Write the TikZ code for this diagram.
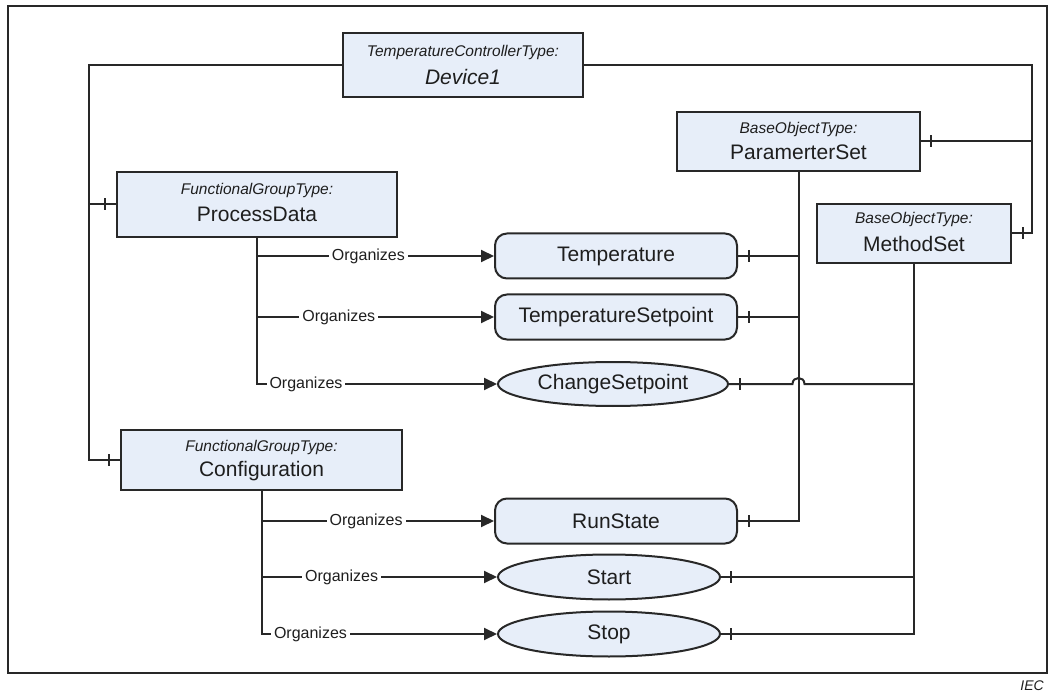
\documentclass[tikz,border=0pt]{standalone}
\usepackage{fontspec}
\setmainfont{Liberation Sans}
\usetikzlibrary{arrows.meta,shapes.geometric,calc}
\definecolor{boxfill}{RGB}{231,238,249}
\definecolor{edgec}{RGB}{40,40,40}
\definecolor{txt}{RGB}{30,30,30}
\newcommand\tyf{\fontsize{15.5}{18}\selectfont\itshape}
\newcommand\nmf{\fontsize{21}{24}\selectfont}
\newcommand\ogf{\fontsize{16}{18}\selectfont}
\newcommand\tk[1]{\draw[conn] (#1) ++(0,-6) -- ++(0,12);}
\tikzset{
  box/.style={draw=edgec, fill=boxfill, line width=2pt, inner sep=0pt},
  sqbox/.style={box, rectangle},
  rbox/.style={box, rectangle, rounded corners=12pt, minimum width=242pt, minimum height=45pt},
  ell/.style={box, ellipse},
  conn/.style={line width=2pt, draw=edgec},
  org/.style={conn, -{Triangle[length=13pt,width=12pt]}},
  lab/.style={fill=white, inner sep=3pt, font=\ogf, text=txt},
  tl/.style={font=\tyf, text=txt, inner sep=0pt},
  nl/.style={font=\nmf, text=txt, inner sep=0pt},
}
\begin{document}
\begin{tikzpicture}[x=1pt,y=-1pt]
\useasboundingbox (0,0) rectangle (1053,695);
\draw[line width=2pt, draw=edgec] (8,6) rectangle (1047,673);
\node[font=\fontsize{14}{16}\selectfont\itshape, text=txt, anchor=east, inner sep=0pt] (iec) at (1044,686) {IEC};

% boxes
\node[sqbox, minimum width=240pt, minimum height=64pt] (dev) at (463,65) {};
\node[tl] (devT) at (463,52) {TemperatureControllerType:};
\node[nl, font=\nmf\itshape] (devN) at (463,77) {Device1};

\node[sqbox, minimum width=280pt, minimum height=65pt] (pd) at (257,204.5) {};
\node[tl] (pdT) at (257,190) {FunctionalGroupType:};
\node[nl] (pdN) at (257,214) {ProcessData};

\node[sqbox, minimum width=281pt, minimum height=60pt] (cf) at (261.5,460) {};
\node[tl] (cfT) at (261.5,447) {FunctionalGroupType:};
\node[nl] (cfN) at (261.5,471) {Configuration};

\node[sqbox, minimum width=243pt, minimum height=59pt] (ps) at (798.5,141.5) {};
\node[tl] (psT) at (798.5,129) {BaseObjectType:};
\node[nl] (psN) at (798.5,152) {ParamerterSet};

\node[sqbox, minimum width=194pt, minimum height=59pt] (ms) at (914,233.5) {};
\node[tl] (msT) at (914,219) {BaseObjectType:};
\node[nl] (msN) at (914,244) {MethodSet};

\node[rbox, font=\nmf, text=txt] (temp) at (616,256) {Temperature};
\node[rbox, font=\nmf, text=txt] (tsp) at (616,317) {TemperatureSetpoint};
\node[ell, font=\nmf, text=txt, minimum width=230pt, minimum height=44pt] (cs) at (613,384) {ChangeSetpoint};
\node[rbox, font=\nmf, text=txt] (rs) at (616,521) {RunState};
\node[ell, font=\nmf, text=txt, minimum width=222pt, minimum height=45pt] (st) at (609,577) {Start};
\node[ell, font=\nmf, text=txt, minimum width=222pt, minimum height=45pt] (sp) at (609,634) {Stop};

% device connections
\coordinate (lt) at (89,65);
\coordinate (rt) at (1032,65);
\draw[conn] (dev.west) -- (lt) |- (cf.west);
\draw[conn] (lt |- pd.west) -- (pd.west);
\draw[conn] (dev.east) -- (rt) |- (ms.east);
\draw[conn] (rt |- ps.east) -- (ps.east);
\tk{[xshift=-11pt]pd.west}
\tk{[xshift=-11pt]cf.west}
\tk{[xshift=10pt]ps.east}
\tk{[xshift=11pt]ms.east}

% organizes from ProcessData
\draw[org] (pd.south) |- node[lab, pos=0.602] (o3) {Organizes} (cs.west);
\draw[org] (pd.south |- temp.west) -- node[lab, pos=0.47] (o1) {Organizes} (temp.west);
\draw[org] (pd.south |- tsp.west) -- node[lab, pos=0.345] (o2) {Organizes} (tsp.west);

% organizes from Configuration
\draw[org] (cf.south) |- node[lab, pos=0.604] (o6) {Organizes} (sp.west);
\draw[org] (cf.south |- rs.west) -- node[lab, pos=0.45] (o4) {Organizes} (rs.west);
\draw[org] (cf.south |- st.west) -- node[lab, pos=0.34] (o5) {Organizes} (st.west);

% ParamerterSet trunk
\draw[conn] (ps.south) |- (rs.east);
\draw[conn] (ps.south |- temp.east) -- (temp.east);
\draw[conn] (ps.south |- tsp.east) -- (tsp.east);
\tk{[xshift=11pt]temp.east}
\tk{[xshift=11pt]tsp.east}
\tk{[xshift=11pt]rs.east}

% MethodSet trunk
\draw[conn] (ms.south) |- (sp.east);
\draw[conn] (ms.south |- st.east) -- (st.east);
\draw[conn] (ms.south |- cs.east) -- ([xshift=6pt]ps.south |- cs.east)
  .. controls ([xshift=6pt,yshift=8pt]ps.south |- cs.east) and ([xshift=-6pt,yshift=8pt]ps.south |- cs.east) .. ([xshift=-6pt]ps.south |- cs.east)
  -- (cs.east);
\tk{[xshift=11pt]cs.east}
\tk{[xshift=10pt]st.east}
\tk{[xshift=10pt]sp.east}
\end{tikzpicture}
\end{document}
